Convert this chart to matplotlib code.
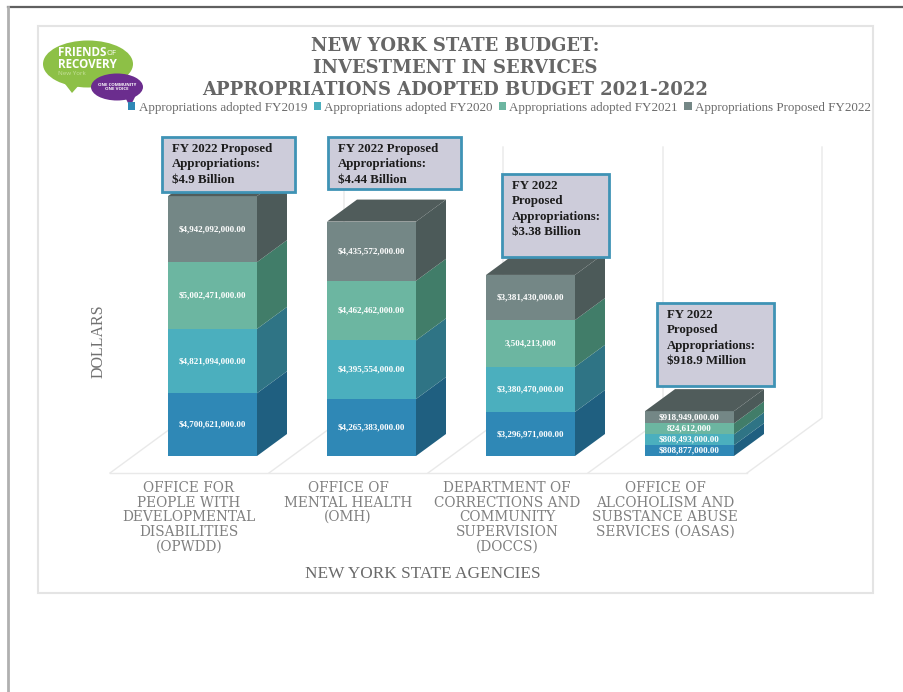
import numpy as np
import matplotlib
matplotlib.use("Agg")
import matplotlib.pyplot as plt
from matplotlib.patches import Ellipse, Polygon, Rectangle, Patch

W, H = 904, 692

agencies = ["OFFICE FOR\nPEOPLE WITH\nDEVELOPMENTAL\nDISABILITIES\n(OPWDD)",
            "OFFICE OF\nMENTAL HEALTH\n(OMH)",
            "DEPARTMENT OF\nCORRECTIONS AND\nCOMMUNITY\nSUPERVISION\n(DOCCS)",
            "OFFICE OF\nALCOHOLISM AND\nSUBSTANCE ABUSE\nSERVICES (OASAS)"]
series_names = ["Appropriations adopted FY2019", "Appropriations adopted FY2020",
                "Appropriations adopted FY2021", "Appropriations Proposed FY2022"]
fy2019 = [4700621000, 4265383000, 3296971000, 808877000]
fy2020 = [4821094000, 4395554000, 3380470000, 808493000]
fy2021 = [5002471000, 4462462000, 3504213000, 824612000]
fy2022 = [4942092000, 4435572000, 3381430000, 918949000]
labels2019 = ["$4,700,621,000.00", "$4,265,383,000.00", "$3,296,971,000.00", "$808,877,000.00"]
labels2020 = ["$4,821,094,000.00", "$4,395,554,000.00", "$3,380,470,000.00", "$808,493,000.00"]
labels2021 = ["$5,002,471,000.00", "$4,462,462,000.00", "3,504,213,000", "824,612,000"]
labels2022 = ["$4,942,092,000.00", "$4,435,572,000.00", "$3,381,430,000.00", "$918,949,000.00"]
callouts = ["FY 2022 Proposed\nAppropriations:\n$4.9 Billion",
            "FY 2022 Proposed\nAppropriations:\n$4.44 Billion",
            "FY 2022\nProposed\nAppropriations:\n$3.38 Billion",
            "FY 2022\nProposed\nAppropriations:\n$918.9 Million"]

front_cols = ["#2F88B6", "#4BAFBE", "#6CB6A1", "#748786"]
side_cols = ["#1F5F80", "#2F7485", "#417D69", "#4C5A59"]
top_col = "#505C5B"
serif = "Liberation Serif"
wide_serif = "DejaVu Serif"

fig = plt.figure(figsize=(W / 100, H / 100), dpi=100, facecolor="white")

# page furniture lives in a pixel axes, y going down
bg = fig.add_axes([0, 0, 1, 1], zorder=1)
bg.set_xlim(0, W)
bg.set_ylim(H, 0)
bg.axis("off")
bg.plot([8, W], [7, 7], color="#606060", lw=1.6)
bg.plot([8.5, 8.5], [7, H], color="#b0b0b0", lw=2)
bg.add_patch(Rectangle((38, 26), 835, 567, fc="white", ec="#e4e4e4", lw=1.5))

# floor and back wall
grid = "#e9e9e9"
for x0 in [110, 269, 428, 588, 747]:
    bg.plot([x0, x0 + 75, x0 + 75], [473, 418, 147], color=grid, lw=1)
bg.plot([110, 747], [473, 473], color=grid, lw=1)

# logo
bg.add_patch(Polygon([(62, 80), (72, 93), (80, 84)], fc="#8DC046", ec="none"))
bg.add_patch(Ellipse((88, 64), 90, 47, fc="#8DC046", ec="none"))
bg.add_patch(Polygon([(124, 95), (130, 107), (136, 95)], fc="#6B2D8E", ec="none"))
bg.add_patch(Ellipse((117, 87), 52, 27, fc="#6B2D8E", ec="none"))
bg.text(58, 52.5, "FRIENDS", color="white", fontsize=8.4, family="Open Sans", weight="bold", va="center")
bg.text(107, 53.5, "OF", color="white", fontsize=5.5, family="Open Sans", va="center")
bg.text(58, 64, "RECOVERY", color="white", fontsize=8.4, family="Open Sans", weight="bold", va="center")
bg.text(58, 73.5, "New York", color="#c5e09a", fontsize=4.5, family="Open Sans", va="center")
bg.text(117, 87, "ONE COMMUNITY\nONE VOICE", color="white", fontsize=3.2, family="Open Sans",
        weight="bold", ha="center", va="center", linespacing=1.1)

# titles
for y, line in zip([46, 68, 90], ["NEW YORK STATE BUDGET:", "INVESTMENT IN SERVICES",
                                  "APPROPRIATIONS ADOPTED BUDGET 2021-2022"]):
    bg.text(455, y, line, color="#666666", fontsize=13, family=wide_serif, weight="bold",
            ha="center", va="center")

bg.text(99, 341, "DOLLARS", color="#707070", fontsize=11.5, family=serif, rotation=90,
        ha="center", va="center")
bg.text(423, 574, "NEW YORK STATE AGENCIES", color="#6a6a6a", fontsize=12.4, family=serif,
        ha="center", va="center")

# bars: x in agency index, y in dollars
px_per_dollar = 13.35e-9
base_px, first_px, step_px = 456, 212.5, 159
ax = fig.add_axes([0, 0, 1, 1], zorder=2)
ax.set_xlim(-first_px / step_px, (W - first_px) / step_px)
ax.set_ylim(-(H - base_px) / px_per_dollar, base_px / px_per_dollar)
ax.axis("off")
ax.patch.set_alpha(0)

x = np.arange(len(agencies))
bar_w = 89 / step_px
dx = 30 / step_px
dy = 22 / px_per_dollar
series = [fy2019, fy2020, fy2021, fy2022]
series_labels = [labels2019, labels2020, labels2021, labels2022]

bottom = np.zeros(len(x))
for vals, labs, fc, sc in zip(series, series_labels, front_cols, side_cols):
    vals = np.array(vals, dtype=float)
    ax.bar(x, vals, bar_w, bottom=bottom, color=fc, lw=0)
    for i in x:
        r = i + bar_w / 2
        b, t = bottom[i], bottom[i] + vals[i]
        ax.add_patch(Polygon([(r, b), (r + dx, b + dy), (r + dx, t + dy), (r, t)], fc=sc, ec="none"))
        ax.text(i, (b + t) / 2, labs[i], color="white", fontsize=6.5, family=serif, weight="bold",
                ha="center", va="center")
    bottom = bottom + vals
for i in x:
    l, r, t = i - bar_w / 2, i + bar_w / 2, bottom[i]
    ax.add_patch(Polygon([(l, t), (r, t), (r + dx, t + dy), (l + dx, t + dy)], fc=top_col, ec="none"))

# callouts and text on top of the bars
fg = fig.add_axes([0, 0, 1, 1], zorder=3)
fg.set_xlim(0, W)
fg.set_ylim(H, 0)
fg.axis("off")
fg.patch.set_alpha(0)
boxes = [(162, 137, 133, 55), (328, 137, 133, 52), (502, 174, 107, 83), (657, 303, 117, 83)]
for (bx, by, bw, bh), txt in zip(boxes, callouts):
    fg.add_patch(Rectangle((bx, by), bw, bh, fc="#CDCCDA", ec="#3F93B5", lw=2))
    fg.text(bx + 10, by + 6, txt, color="#1c1c1c", fontsize=9.3, family=serif, weight="bold",
            ha="left", va="top", linespacing=1.38)

for cx, name in zip([189, 348, 507, 665], agencies):
    fg.text(cx, 481, name, color="#808080", fontsize=9.8, family=wide_serif, ha="center", va="top",
            linespacing=1.05)

handles = [Patch(fc=c, ec="none") for c in front_cols]
fig.legend(handles, series_names, loc="center", bbox_to_anchor=(499.5 / W, 1 - 108 / H), ncol=4,
           frameon=False, handlelength=0.55, handleheight=0.55, handletextpad=0.25,
           columnspacing=0.5, prop={"family": serif, "size": 9.4}, labelcolor="#6a6a6a",
           borderpad=0, borderaxespad=0)

fig.savefig("out.png", dpi=100)
